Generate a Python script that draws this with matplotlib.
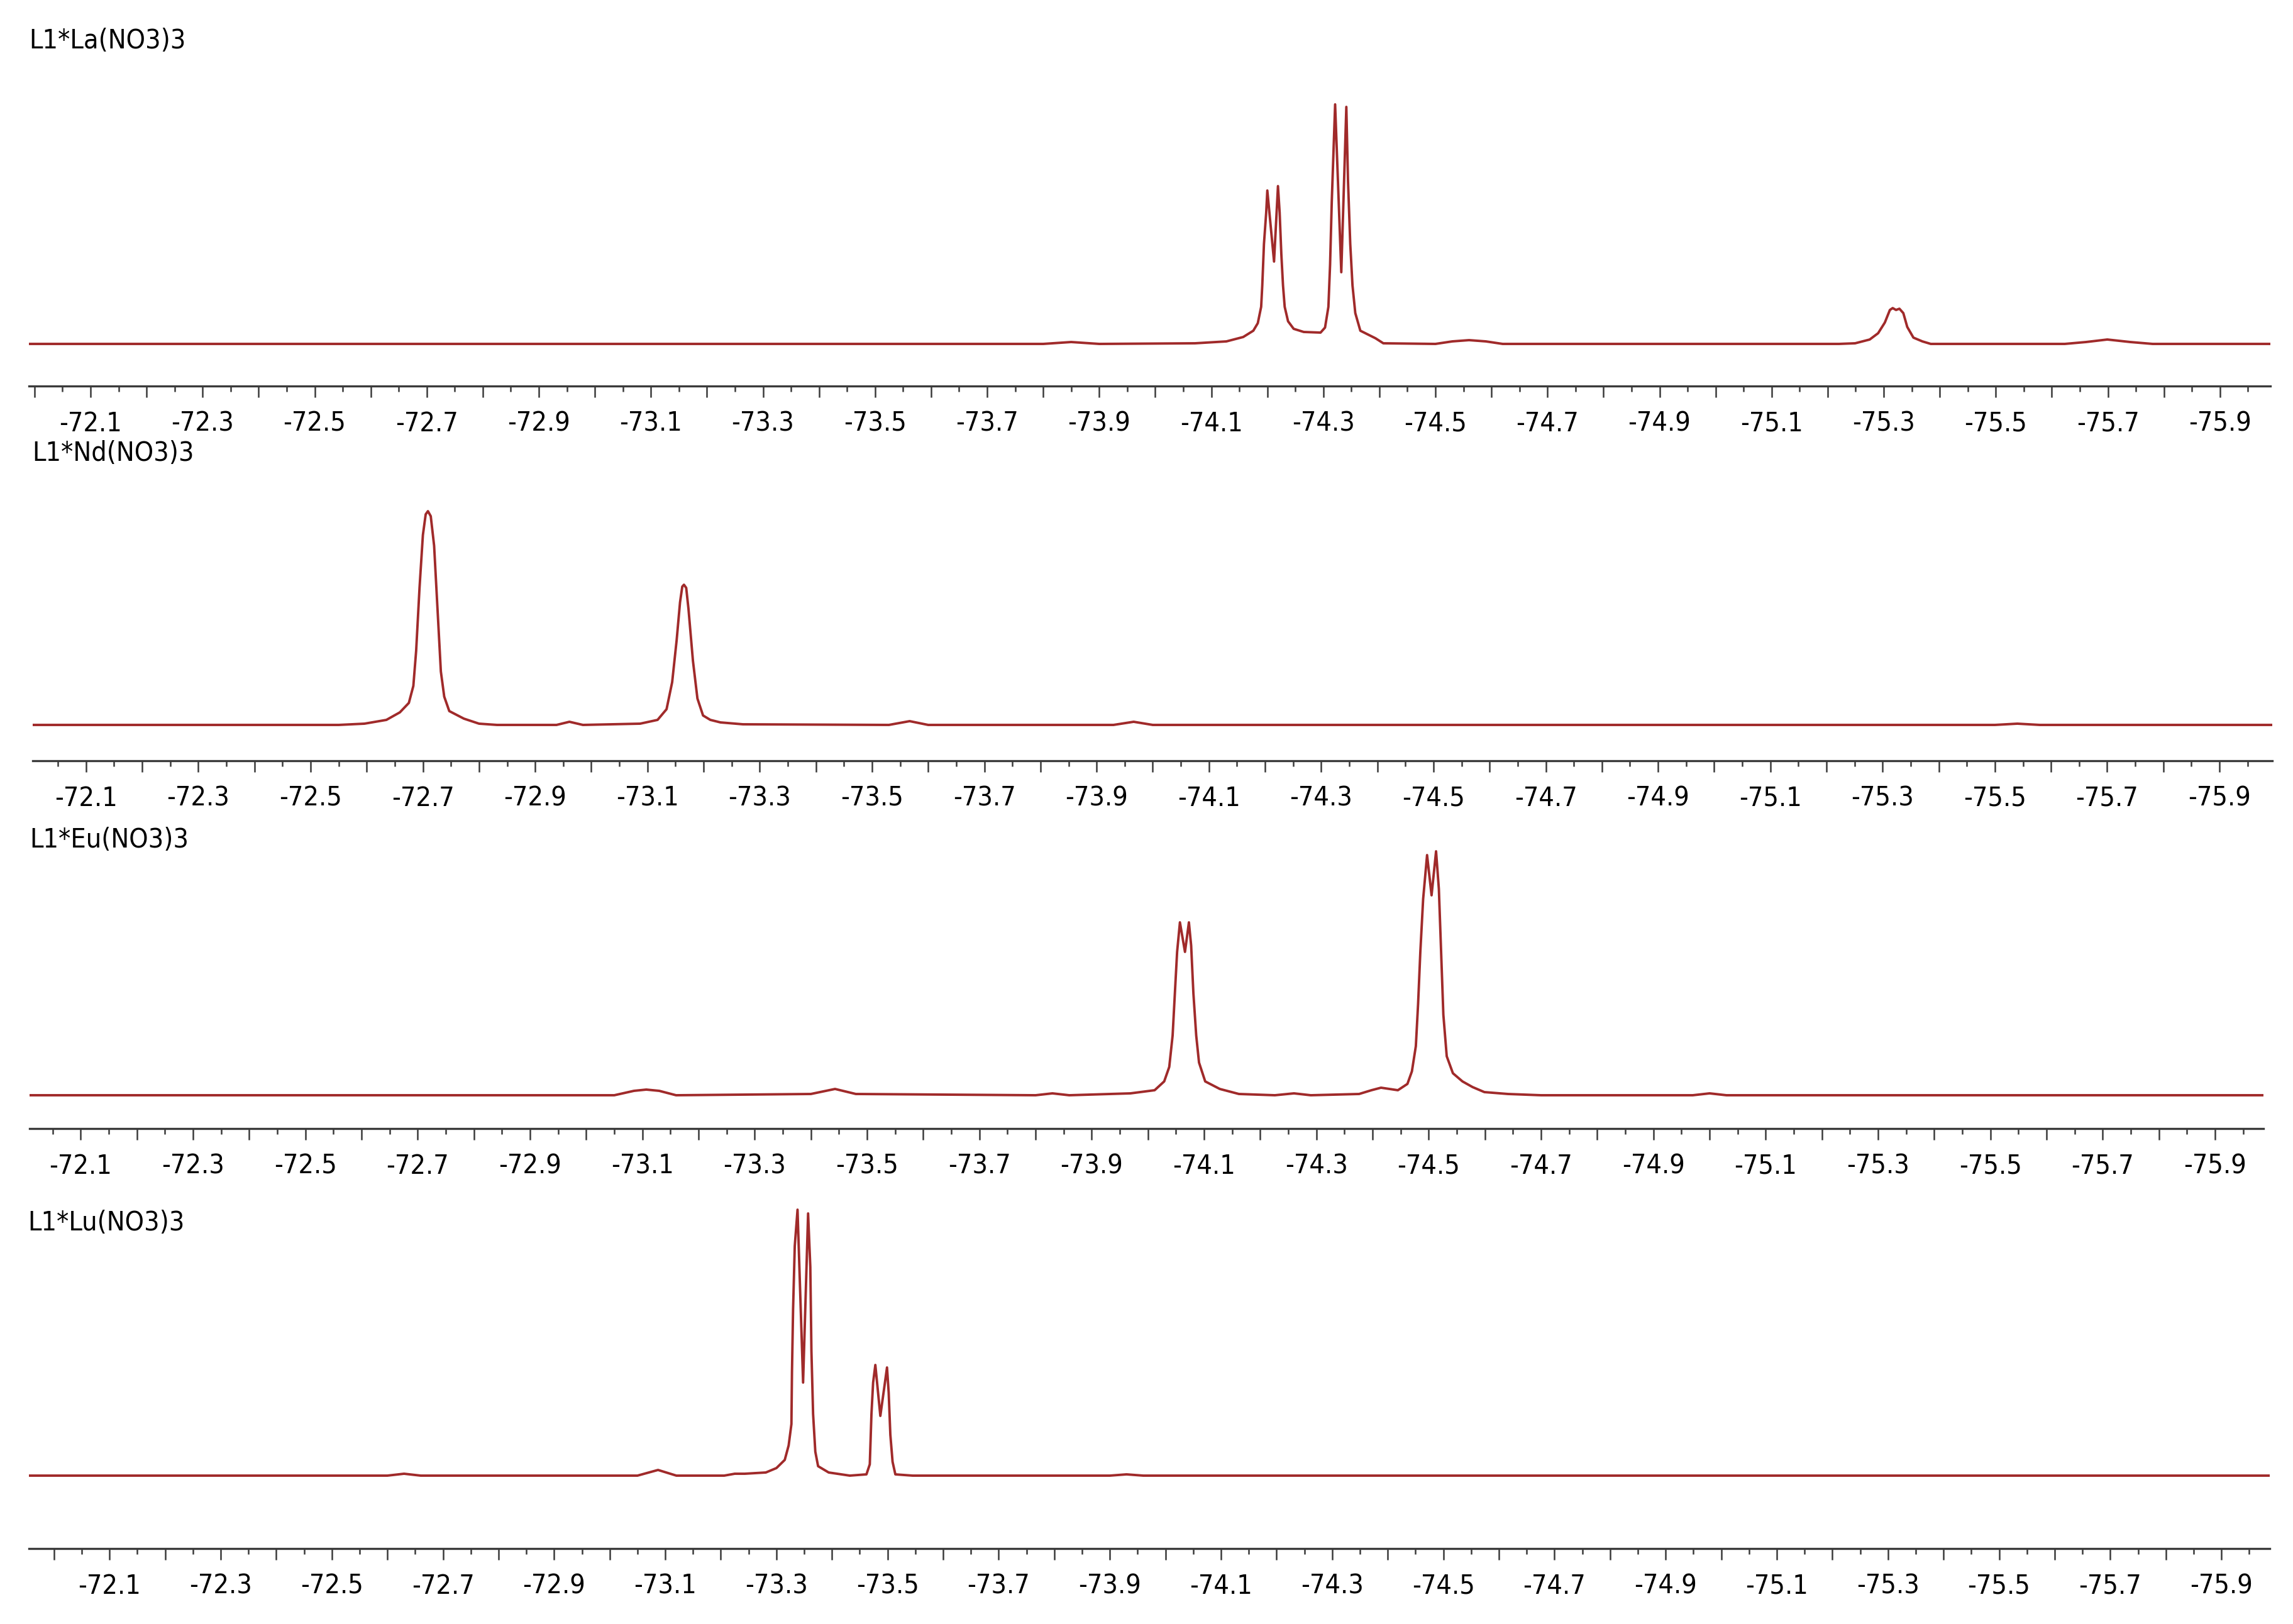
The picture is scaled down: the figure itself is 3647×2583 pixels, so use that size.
import matplotlib
matplotlib.use('Agg')
import matplotlib.pyplot as plt
from matplotlib.ticker import MultipleLocator, FuncFormatter

plt.rcParams['font.family'] = ['DejaVu Sans']
plt.rcParams['font.stretch'] = 'condensed'

# 19F spectra, chemical shift (ppm) and intensity (arbitrary units, baseline = 0)
la_ppm = [-71.99, -73.80, -73.85, -73.90, -74.071, -74.127, -74.157, -74.175, -74.183, -74.189,
          -74.191, -74.194, -74.198, -74.200, -74.212, -74.219, -74.222, -74.225, -74.228, -74.231,
          -74.237, -74.247, -74.265, -74.295, -74.303, -74.309, -74.312, -74.315, -74.321, -74.332,
          -74.341, -74.344, -74.348, -74.352, -74.357, -74.366, -74.393, -74.407, -74.50, -74.53,
          -74.56, -74.59, -74.62, -75.22, -75.249, -75.275, -75.290, -75.302, -75.311, -75.316,
          -75.322, -75.328, -75.335, -75.342, -75.353, -75.369, -75.384, -75.623, -75.661, -75.699,
          -75.74, -75.78, -75.99]
la_int = [0, 0, 3, 0, 1, 4, 11, 21, 33, 59,
          93, 159, 209, 244, 131, 251, 209, 143, 93, 59,
          36, 24, 19, 18, 26, 59, 126, 226, 381, 114,
          377, 259, 159, 93, 49, 21, 9, 1, 0, 4,
          6, 4, 0, 0, 1, 7, 17, 34, 54, 57,
          54, 56, 49, 27, 10, 4, 0, 0, 3, 7,
          3, 0, 0]

nd_ppm = [-72.005, -72.55, -72.596, -72.635, -72.659, -72.675, -72.683, -72.688, -72.694, -72.700,
          -72.705, -72.709, -72.714, -72.720, -72.726, -72.732, -72.738, -72.747, -72.773, -72.800,
          -72.832, -72.938, -72.961, -72.985, -73.087, -73.118, -73.134, -73.144, -73.152, -73.158,
          -73.162, -73.165, -73.169, -73.173, -73.181, -73.189, -73.199, -73.212, -73.23, -73.27,
          -73.53, -73.567, -73.60, -73.93, -73.966, -74.00, -75.50, -75.54, -75.58, -75.994]
nd_int = [0, 0, 2, 8, 20, 35, 62, 118, 218, 302,
          335, 340, 332, 285, 185, 85, 45, 22, 10, 2,
          0, 0, 5, 0, 2, 8, 25, 68, 135, 195,
          220, 223, 218, 185, 102, 42, 15, 8, 4, 1,
          0, 6, 0, 0, 5, 0, 0, 2, 0, 0]

eu_ppm = [-72.009, -73.05, -73.085, -73.107, -73.13, -73.16, -73.40, -73.443, -73.48, -73.80,
          -73.83, -73.86, -73.969, -74.012, -74.029, -74.038, -74.044, -74.048, -74.052, -74.057,
          -74.066, -74.073, -74.077, -74.081, -74.086, -74.091, -74.102, -74.128, -74.162, -74.226,
          -74.26, -74.29, -74.376, -74.398, -74.415, -74.445, -74.462, -74.470, -74.477, -74.481,
          -74.485, -74.490, -74.497, -74.505, -74.513, -74.518, -74.522, -74.526, -74.532, -74.543,
          -74.560, -74.578, -74.599, -74.641, -74.70, -74.97, -75.00, -75.03, -75.986]
eu_int = [0, 0, 7, 9, 7, 0, 2, 10, 2, 0,
          3, 0, 3, 8, 22, 45, 95, 162, 228, 275,
          228, 275, 238, 162, 95, 52, 22, 10, 2, 0,
          3, 0, 2, 8, 12, 8, 18, 38, 78, 145,
          228, 312, 382, 318, 388, 328, 228, 128, 62, 35,
          22, 13, 5, 2, 0, 0, 3, 0, 0]

lu_ppm = [-71.955, -72.60, -72.63, -72.66, -73.05, -73.087, -73.12, -73.206, -73.225, -73.243,
          -73.281, -73.300, -73.315, -73.322, -73.327, -73.328, -73.330, -73.333, -73.338, -73.348,
          -73.357, -73.361, -73.363, -73.366, -73.370, -73.375, -73.394, -73.432, -73.462, -73.468,
          -73.471, -73.474, -73.478, -73.487, -73.499, -73.502, -73.505, -73.509, -73.514, -73.545,
          -73.658, -73.90, -73.93, -73.96, -75.987]
lu_int = [0, 0, 3, 0, 0, 9, 0, 0, 3, 3,
          5, 12, 25, 48, 82, 165, 265, 365, 423, 148,
          417, 332, 198, 98, 38, 15, 5, 0, 2, 18,
          98, 148, 176, 95, 172, 132, 65, 22, 2, 0,
          0, 0, 2, 0, 0]

names = ['L1*La(NO3)3', 'L1*Nd(NO3)3', 'L1*Eu(NO3)3', 'L1*Lu(NO3)3']

W, H = 3648, 2583
fig = plt.figure(figsize=(W / 100, H / 100), dpi=100)

# pixel boxes: left, right, top, bottom(axis line); y limits; title position
boxes = [(46, 3611, 100, 614), (52, 3614, 790, 1210), (47, 3600, 1340, 1795), (46, 3610, 1900, 2463)]
ylims = [(-67, 447), (-57, 363), (-53, 402), (-116, 447)]
title_xy = [(46, 65), (51, 721), (47, 1336), (44, 1945)]
spectra = [(la_ppm, la_int), (nd_ppm, nd_int), (eu_ppm, eu_int), (lu_ppm, lu_int)]

line_color = '#a02a2a'
axis_color = '#3a3a3a'
fs = 31


def odd_tenths(v, pos):
    k = int(round(v * 10))
    return '%.1f' % v if k % 2 else ''


for name, (ppm, inten), (l, r, t, b), yl, (tx, ty) in zip(names, spectra, boxes, ylims, title_xy):
    ax = fig.add_axes([l / W, 1 - b / H, (r - l) / W, (b - t) / H])
    ax.plot(ppm, inten, color=line_color, lw=2.8, solid_joinstyle='round')
    ax.set_xlim(ppm[0], ppm[-1])
    ax.set_ylim(*yl)
    for s in ['top', 'left', 'right']:
        ax.spines[s].set_visible(False)
    ax.spines['bottom'].set_color(axis_color)
    ax.spines['bottom'].set_linewidth(2.4)
    ax.set_yticks([])
    ax.xaxis.set_major_locator(MultipleLocator(0.1))
    ax.xaxis.set_minor_locator(MultipleLocator(0.05))
    ax.xaxis.set_major_formatter(FuncFormatter(odd_tenths))
    ax.tick_params(axis='x', which='major', length=13, width=1.8, color=axis_color,
                   labelsize=fs, pad=15)
    ax.tick_params(axis='x', which='minor', length=6.5, width=1.8, color=axis_color)
    ax.patch.set_alpha(0)
    fig.text(tx / W, 1 - ty / H, name, fontsize=fs, ha='left', va='center')

fig.savefig('out.png', dpi=100)
